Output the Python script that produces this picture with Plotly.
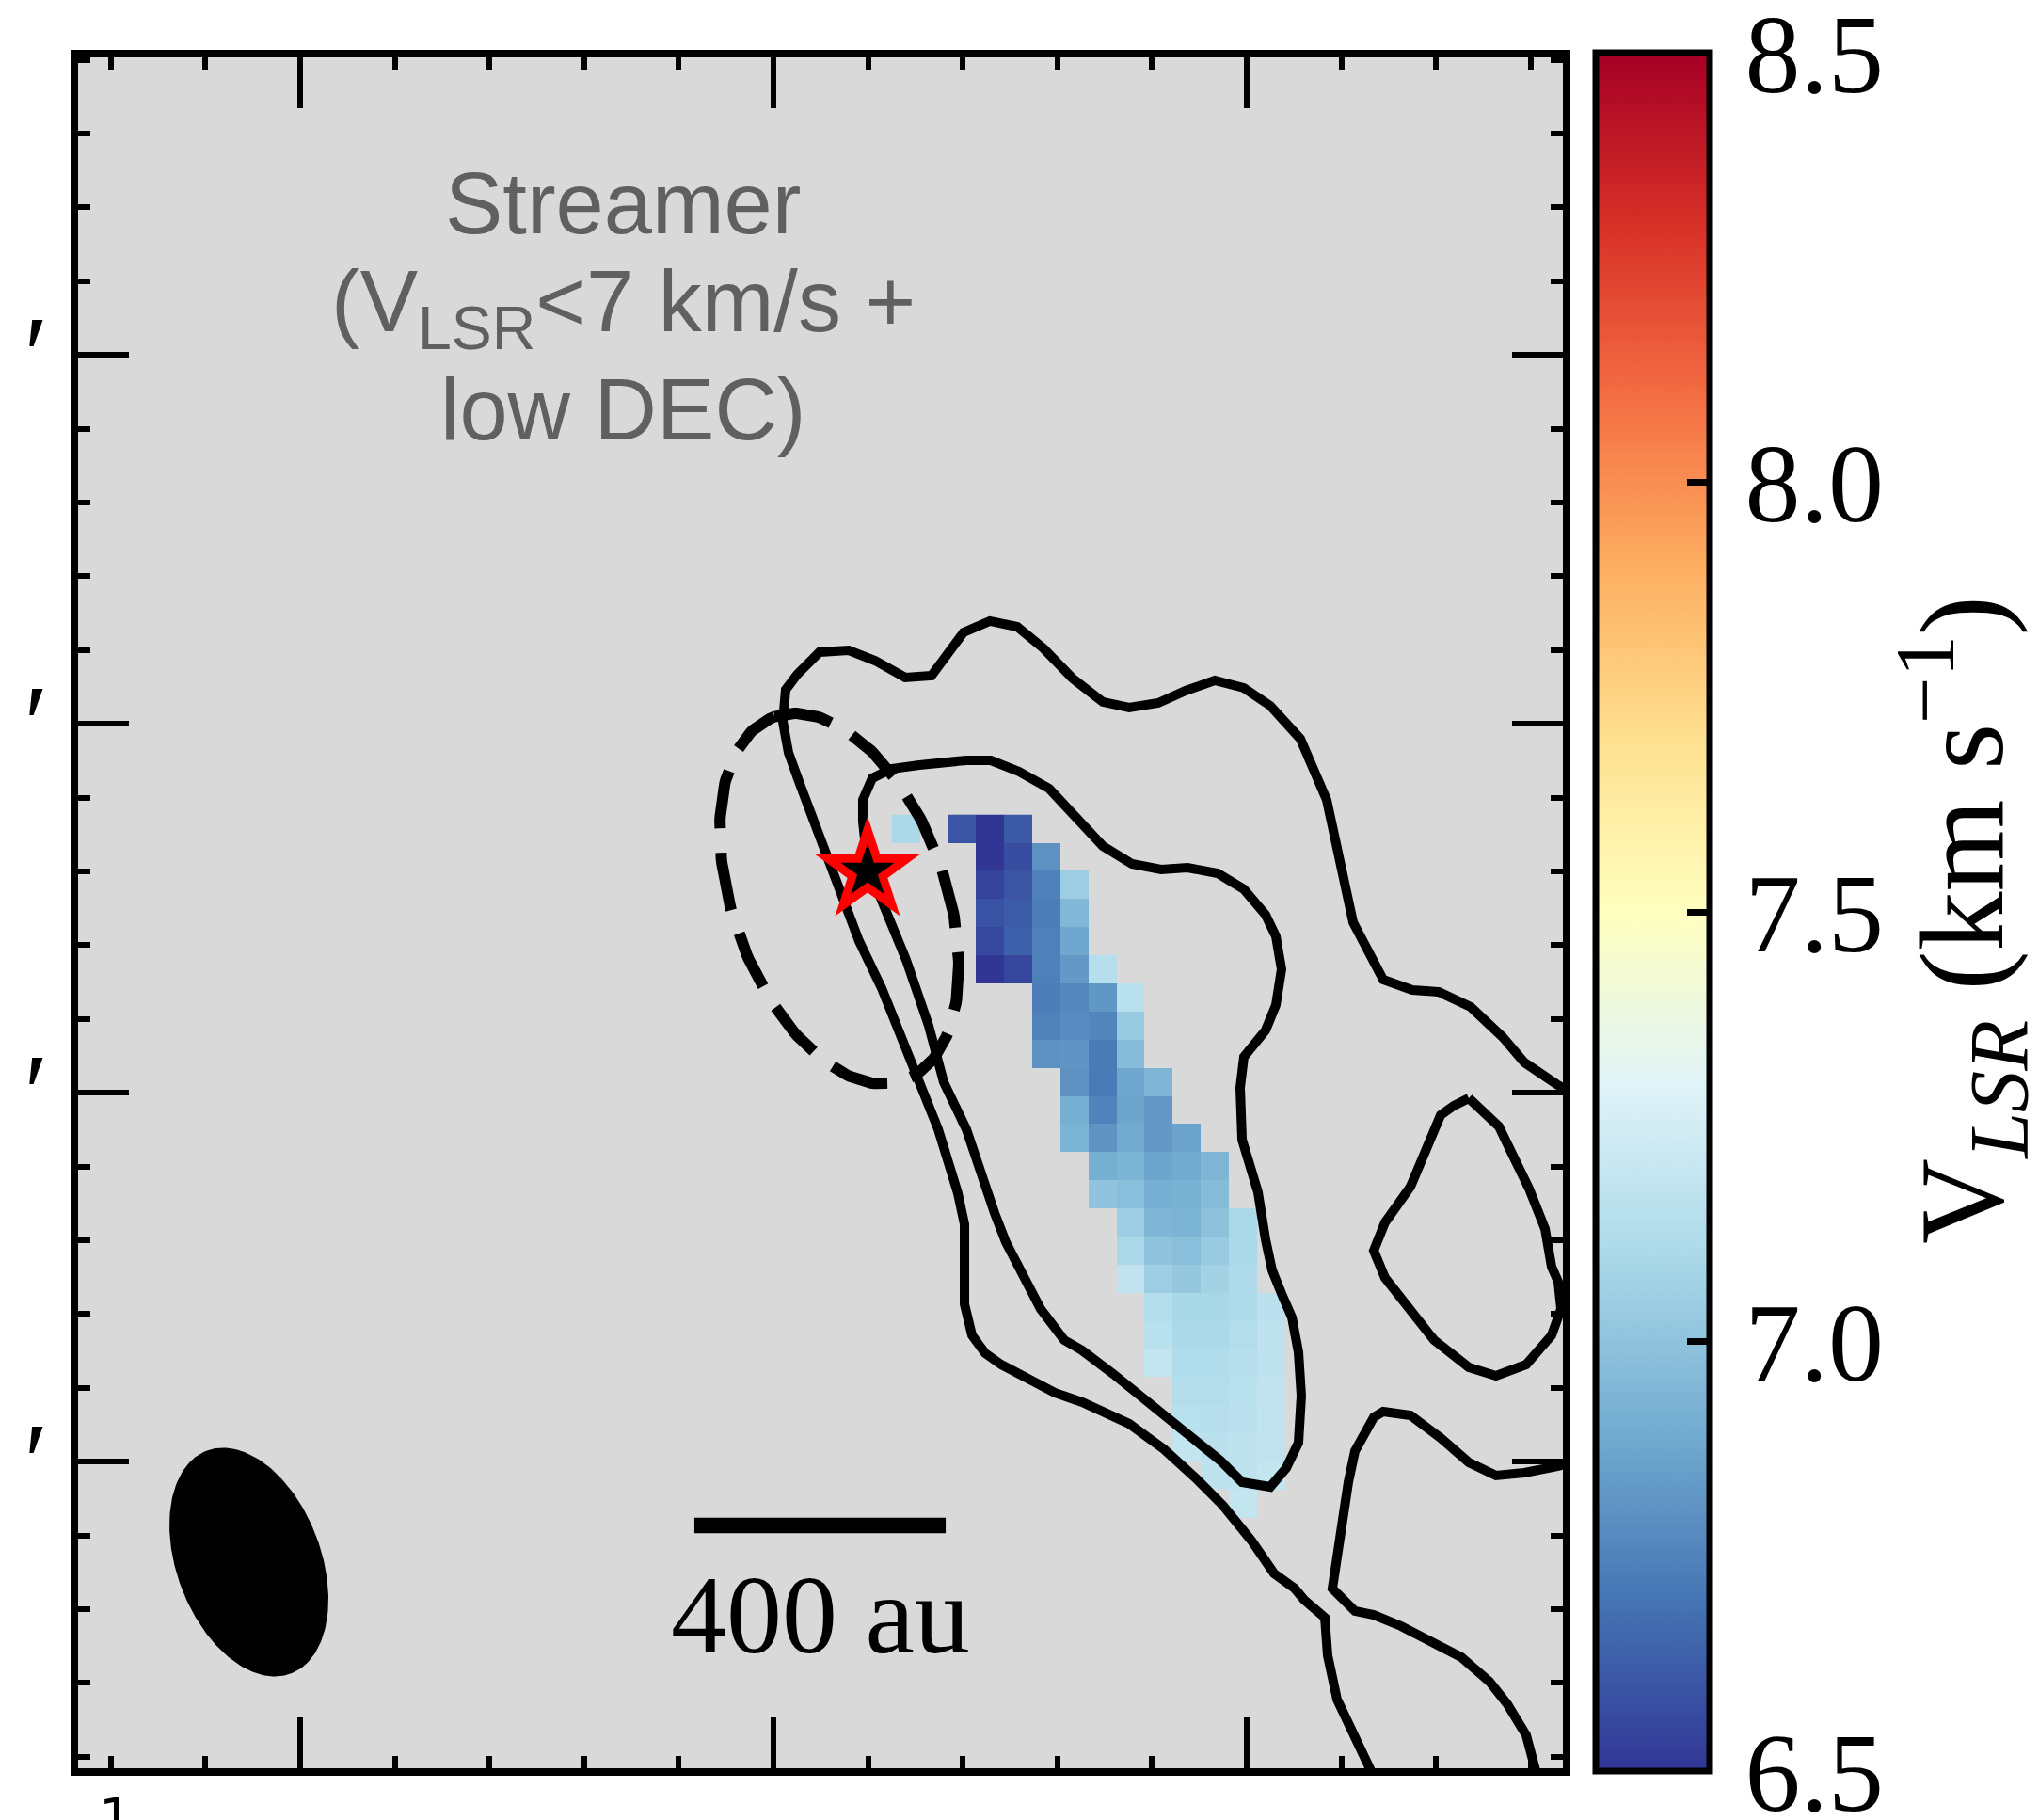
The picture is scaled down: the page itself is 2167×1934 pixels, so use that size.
import numpy as np
import plotly.graph_objects as go

# ---------------------------------------------------------------------------
# Velocity (V_LSR) map of the streamer, km/s.
# Rows run top -> bottom, columns left -> right; None = masked pixel.
# Offsets are in arcsec from the protostar.
# ---------------------------------------------------------------------------
PIX = 0.381        # map cell size (arcsec)
COL0_X = 0.519     # centre of first column
ROW0_Y = 0.578     # centre of first row
N = None
vlsr_map = [
    [7.10, N, 6.60, 6.50, 6.61] + [N] * 9,
    [N] * 3 + [6.50, 6.57, 6.80] + [N] * 8,
    [N] * 3 + [6.54, 6.60, 6.74, 7.05] + [N] * 7,
    [N] * 3 + [6.59, 6.62, 6.73, 6.95] + [N] * 7,
    [N] * 3 + [6.56, 6.63, 6.74, 6.88] + [N] * 7,
    [N] * 3 + [6.50, 6.55, 6.74, 6.83, 7.14] + [N] * 6,
    [N] * 5 + [6.73, 6.77, 6.82, 7.15] + [N] * 5,
    [N] * 5 + [6.75, 6.78, 6.76, 7.03] + [N] * 5,
    [N] * 5 + [6.80, 6.81, 6.72, 6.97] + [N] * 5,
    [N] * 6 + [6.80, 6.72, 6.88, 6.94] + [N] * 4,
    [N] * 6 + [6.91, 6.75, 6.87, 6.83] + [N] * 4,
    [N] * 6 + [6.93, 6.81, 6.89, 6.83, 6.86] + [N] * 3,
    [N] * 7 + [6.91, 6.93, 6.87, 6.89, 6.94] + [N] * 2,
    [N] * 7 + [7.00, 6.98, 6.91, 6.92, 6.97] + [N] * 2,
    [N] * 8 + [7.05, 6.94, 6.93, 6.99, 7.10] + [N],
    [N] * 8 + [7.10, 7.00, 6.98, 7.03, 7.10] + [N],
    [N] * 8 + [7.18, 7.05, 7.02, 7.07, 7.11] + [N],
    [N] * 9 + [7.13, 7.09, 7.09, 7.11, 7.16],
    [N] * 9 + [7.15, 7.10, 7.10, 7.13, 7.17],
    [N] * 9 + [7.19, 7.12, 7.12, 7.14, 7.17],
    [N] * 10 + [7.13, 7.13, 7.15, 7.18],
    [N] * 10 + [7.15, 7.14, 7.16, 7.18],
    [N] * 10 + [7.19, 7.16, 7.17, 7.18],
    [N] * 11 + [7.17, 7.17, 7.19],
    [N] * 12 + [7.19, N],
]
V_MIN, V_MAX = 6.5, 8.5

# Integrated-intensity contours (arcsec offsets)
contour_outer = [
    (9.566, -3.010), (9.337, -2.883), (8.903, -2.589), (8.610, -2.245), (8.176, -1.837),
    (7.742, -1.633), (7.385, -1.607), (6.990, -1.467), (6.582, -0.689), (6.365, 0.242),
    (6.224, 0.969), (5.867, 1.798), (5.459, 2.245), (5.102, 2.487), (4.707, 2.589),
    (4.311, 2.449), (3.941, 2.283), (3.546, 2.219), (3.189, 2.296), (2.781, 2.615),
    (2.385, 3.023), (2.028, 3.316), (1.658, 3.393), (1.301, 3.240), (0.867, 2.653),
    (0.510, 2.628), (0.102, 2.857), (-0.255, 2.997), (-0.651, 2.972), (-0.957, 2.666),
    (-1.110, 2.462), (-1.148, 2.028), (-1.071, 1.607), (-0.918, 1.186), (-0.753, 0.753),
    (-0.574, 0.332), (-0.408, -0.089), (-0.242, -0.523), (-0.115, -0.944), (0.191, -1.582),
    (0.523, -2.436), (0.778, -3.074), (0.957, -3.495), (1.224, -4.362), (1.314, -4.783),
    (1.314, -5.867), (1.416, -6.288), (1.594, -6.531), (1.811, -6.684), (2.538, -7.066),
    (2.908, -7.194), (3.546, -7.487), (4.018, -7.832), (4.439, -8.214), (4.821, -8.597),
    (5.204, -9.069), (5.421, -9.388), (5.510, -9.515), (5.791, -9.719), (5.918, -9.872),
    (6.199, -10.115), (6.237, -10.625), (6.365, -11.224), (6.862, -12.245), (6.964, -12.487),
]
contour_inner = [
    (-0.064, 0.676), (-0.064, 0.969), (0.064, 1.263), (0.319, 1.390), (0.702, 1.441),
    (1.339, 1.505), (1.671, 1.505), (2.054, 1.352), (2.462, 1.122), (2.819, 0.727),
    (3.189, 0.344), (3.584, 0.102), (3.980, 0.026), (4.337, 0.051), (4.745, -0.026),
    (5.102, -0.242), (5.395, -0.587), (5.536, -0.880), (5.612, -1.327), (5.536, -1.811),
    (5.395, -2.156), (5.102, -2.513), (5.051, -2.934), (5.077, -3.635), (5.293, -4.349),
    (5.395, -4.987), (5.485, -5.408), (5.625, -5.753), (5.753, -6.046), (5.842, -6.518),
    (5.880, -7.105), (5.842, -7.742), (5.676, -8.087), (5.459, -8.342), (5.077, -8.278),
    (4.783, -7.985), (4.401, -7.666), (3.929, -7.283), (3.329, -6.811), (2.908, -6.492),
    (2.666, -6.352), (2.347, -5.931), (2.130, -5.536), (1.875, -5.026), (1.722, -4.630),
    (1.569, -4.184), (1.416, -3.699), (1.339, -3.495), (1.033, -2.857), (0.829, -2.092),
    (0.523, -1.199), (0.255, -0.561), (0.077, -0.115), (-0.026, 0.332), (-0.064, 0.676),
]
contour_east_blob = [
    (8.151, -3.074), (8.559, -3.457), (8.737, -3.827), (8.967, -4.298), (9.184, -4.847),
    (9.273, -5.357), (9.362, -5.561), (9.401, -5.931), (9.273, -6.288), (8.929, -6.684),
    (8.520, -6.837), (8.151, -6.722), (7.679, -6.352), (7.296, -5.893), (7.015, -5.510),
    (6.862, -5.140), (7.015, -4.758), (7.360, -4.273), (7.551, -3.827), (7.768, -3.304),
    (7.946, -3.176), (8.151, -3.074),
]
contour_southeast = [
    (9.605, -7.985), (9.362, -8.061), (8.903, -8.151), (8.520, -8.189), (8.151, -8.010),
    (7.768, -7.679), (7.360, -7.372), (6.990, -7.321), (6.862, -7.398), (6.607, -7.857),
    (6.518, -8.278), (6.365, -9.184), (6.301, -9.719), (6.607, -10.026), (6.862, -10.077),
    (7.232, -10.230), (7.679, -10.446), (8.048, -10.651), (8.431, -10.982), (8.673, -11.288),
    (8.929, -11.709), (9.056, -12.130), (9.120, -12.423),
]

# Dashed ellipse (centre, semi-axes in arcsec, position angle in deg)
disk_center = (-0.383, -0.370)
disk_axes = (2.617, 1.445)
disk_pa = 19.6

# Synthesised beam
beam_center = (-8.386, -9.362)
beam_axes = (1.615, 0.978)
beam_pa = 20.6

# Protostar position
star_xy = (0.0, 0.0)

# Scale bar
DIST_PC = 117.4
SCALE_AU = 400
scalebar_center = (-0.644, -8.865)

# Axis ticks (arcsec); RA ticks every 0.1 s of time at the source declination
RA_STEP = 1.2832
RA_TICK0 = -1.2755
DEC_MAJOR = [-8, -3, 2, 7]

X_RANGE = [-10.7015, 9.426]
Y_RANGE = [-12.156, 11.033]


def ellipse_xy(center, axes, pa_deg, n=240):
    t = np.linspace(0, 2 * np.pi, n)
    th = np.deg2rad(pa_deg)
    ux, uy = -np.sin(th), np.cos(th)     # major axis direction
    vx, vy = np.cos(th), np.sin(th)      # minor axis direction
    a, b = axes
    x = center[0] + a * np.cos(t) * ux + b * np.sin(t) * vx
    y = center[1] + a * np.cos(t) * uy + b * np.sin(t) * vy
    return x, y


fig = go.Figure()

# velocity map (rows reversed so that y increases upward)
n_rows = len(vlsr_map)
n_cols = len(vlsr_map[0])
xc = [COL0_X + PIX * i for i in range(n_cols)]
yc = [ROW0_Y - PIX * j for j in range(n_rows)][::-1]
fig.add_trace(go.Heatmap(
    z=vlsr_map[::-1], x=xc, y=yc,
    colorscale="RdYlBu_r", zmin=V_MIN, zmax=V_MAX,
    hoverongaps=False, showscale=True,
    colorbar=dict(
        thickness=121, thicknessmode="pixels",
        len=1826, lenmode="pixels",
        x=1.0219, xanchor="left", xpad=0,
        y=0.5003, yanchor="middle", ypad=0,
        outlinewidth=7, outlinecolor="black",
        tickmode="linear", tick0=6.5, dtick=0.5, tickformat=".1f",
        tickprefix="\u200a",
        ticks="inside", ticklen=27, tickwidth=7, tickcolor="black",
        ticklabeloverflow="allow",
        tickfont=dict(family="Liberation Serif", size=118, color="black"),
    ),
))

# contours
for path in (contour_outer, contour_inner, contour_east_blob, contour_southeast):
    fig.add_trace(go.Scatter(
        x=[p[0] for p in path], y=[p[1] for p in path], mode="lines",
        line=dict(color="black", width=10), hoverinfo="skip", showlegend=False))

# dashed ellipse
dx, dy = ellipse_xy(disk_center, disk_axes, disk_pa)
fig.add_trace(go.Scatter(x=dx, y=dy, mode="lines",
                         line=dict(color="black", width=12, dash="62px,26px"),
                         hoverinfo="skip", showlegend=False))

# protostar: red star with black core
fig.add_trace(go.Scatter(x=[star_xy[0]], y=[star_xy[1]], mode="markers",
                         marker=dict(symbol="star", size=84, color="red", line=dict(width=0)),
                         hoverinfo="skip", showlegend=False))
fig.add_trace(go.Scatter(x=[star_xy[0]], y=[star_xy[1]], mode="markers",
                         marker=dict(symbol="star", size=43, color="black", line=dict(width=0)),
                         hoverinfo="skip", showlegend=False))

# beam
bx, by = ellipse_xy(beam_center, beam_axes, beam_pa)
fig.add_trace(go.Scatter(x=bx, y=by, mode="lines", fill="toself", fillcolor="black",
                         line=dict(color="black", width=0), hoverinfo="skip", showlegend=False))

# scale bar
bar_len = SCALE_AU / DIST_PC
fig.add_trace(go.Scatter(
    x=[scalebar_center[0] - bar_len / 2, scalebar_center[0] + bar_len / 2],
    y=[scalebar_center[1], scalebar_center[1]], mode="lines",
    line=dict(color="black", width=16.5), hoverinfo="skip", showlegend=False))

annotations = [
    dict(x=scalebar_center[0], y=-10.08, xref="x", yref="y", text=f"{SCALE_AU} au",
         showarrow=False, xanchor="center", yanchor="middle",
         font=dict(family="Liberation Serif", size=118, color="black")),
    # colour-bar title, reading upward
    dict(x=1.2687, y=0.4956, xref="paper", yref="paper", textangle=-90,
         text="V<sub><i>LSR</i></sub> (km s<sup>−1</sup>)", showarrow=False,
         xanchor="center", yanchor="middle",
         font=dict(family="Liberation Serif", size=126, color="black")),
]
label_lines = ["Streamer", "(V<sub>LSR</sub>&lt;7 km/s +", "low DEC)"]
label_y = [9.06, 7.64, 6.26]
for txt, ly in zip(label_lines, label_y):
    annotations.append(dict(x=-3.316, y=ly, xref="x", yref="y", text=txt, showarrow=False,
                            xanchor="center", yanchor="middle",
                            font=dict(family="Liberation Sans", size=92, color="#606060")))
# clipped RA label at the lower edge
annotations.append(dict(x=-10.19, y=0, xref="x", yref="paper", text="1", showarrow=False,
                        xanchor="center", yanchor="top", yshift=-17,
                        font=dict(family="DejaVu Sans", size=56, color="black")))

axis_common = dict(showgrid=False, zeroline=False, showline=True, linewidth=8,
                   linecolor="black", mirror="allticks", ticks="inside", ticklen=54,
                   tickwidth=6, tickcolor="black")

fig.update_layout(
    width=2167, height=1934,
    margin=dict(l=83, r=506, t=61, b=55),
    paper_bgcolor="white", plot_bgcolor="#d9d9d9",
    hovermode=False, showlegend=False,
    xaxis=dict(range=X_RANGE, tickmode="linear", tick0=RA_TICK0, dtick=5 * RA_STEP,
               showticklabels=False,
               minor=dict(ticks="inside", ticklen=13, tickwidth=6, tickcolor="black",
                          tickmode="linear", tick0=RA_TICK0, dtick=RA_STEP),
               **axis_common),
    yaxis=dict(range=Y_RANGE, tickmode="array", tickvals=DEC_MAJOR,
               ticktext=["′"] * len(DEC_MAJOR),
               tickfont=dict(family="Liberation Serif", size=118, color="black"),
               minor=dict(ticks="inside", ticklen=13, tickwidth=6, tickcolor="black",
                          tickmode="linear", tick0=0, dtick=1),
               **axis_common),
    annotations=annotations,
)

fig.write_html("out.html")
